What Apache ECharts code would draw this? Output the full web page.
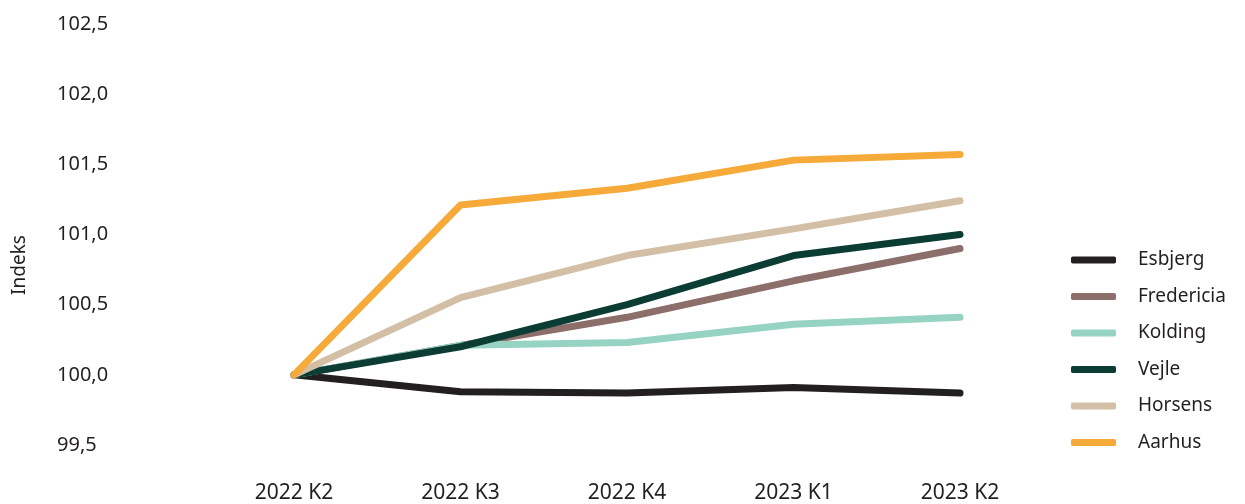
<!DOCTYPE html>
<html>
<head>
<meta charset="utf-8">
<script src="https://cdn.jsdelivr.net/npm/echarts@6/dist/echarts.min.js"></script>
<style>
html,body{margin:0;padding:0;background:#fff;}
#chart{width:1245px;height:504px;}
</style>
</head>
<body>
<div id="chart"></div>
<script>
const categories = ['2022 K2', '2022 K3', '2022 K4', '2023 K1', '2023 K2'];
const esbjerg    = [100.00, 99.88, 99.87, 99.91, 99.87];
const fredericia = [100.00, 100.21, 100.41, 100.67, 100.90];
const kolding    = [100.00, 100.21, 100.23, 100.36, 100.41];
const vejle      = [100.00, 100.20, 100.50, 100.85, 101.00];
const horsens    = [100.00, 100.55, 100.85, 101.04, 101.24];
const aarhus     = [100.00, 101.21, 101.33, 101.53, 101.57];
const seriesNames = ['Esbjerg', 'Fredericia', 'Kolding', 'Vejle', 'Horsens', 'Aarhus'];
const colors = ['#231f20', '#8c6e6b', '#96d3c3', '#0b3d34', '#d3bea6', '#f5aa3a'];
const yAxisName = 'Indeks';

const seriesData = [esbjerg, fredericia, kolding, vejle, horsens, aarhus];
const textColor = '#231f20';
const font = '"Noto Sans", sans-serif';

const chart = echarts.init(document.getElementById('chart'), null, {renderer: 'canvas'});
chart.setOption({
  animation: false,
  backgroundColor: '#ffffff',
  textStyle: {fontFamily: font, color: textColor},
  grid: {left: 294, right: 285, top: 24, bottom: 58, containLabel: false},
  xAxis: {
    type: 'category',
    data: categories,
    boundaryGap: false,
    axisLine: {show: false},
    axisTick: {show: false},
    splitLine: {show: false},
    axisLabel: {color: textColor, fontSize: 21, fontFamily: font, margin: 38}
  },
  yAxis: {
    type: 'value',
    min: 99.5,
    max: 102.5,
    interval: 0.5,
    axisLine: {show: false},
    axisTick: {show: false},
    splitLine: {show: false},
    axisLabel: {
      color: textColor, fontSize: 20, fontFamily: font, margin: 237, align: 'left',
      formatter: v => v.toFixed(1).replace('.', ',')
    }
  },
  legend: {
    orient: 'vertical',
    left: 1071,
    top: 250,
    padding: 0,
    itemWidth: 45,
    itemHeight: 7,
    itemGap: 16.5,
    icon: 'roundRect',
    data: seriesNames,
    textStyle: {color: textColor, fontSize: 19, fontFamily: font, lineHeight: 20, padding: [0, 0, 0, 17]}
  },
  graphic: [{
    type: 'text',
    x: 20, y: 265,
    rotation: Math.PI / 2,
    style: {text: yAxisName, fill: textColor, font: '19px "Noto Sans", sans-serif', align: 'center', verticalAlign: 'middle'}
  }],
  series: seriesNames.map((name, i) => ({
    name: name,
    type: 'line',
    data: seriesData[i],
    symbol: 'none',
    color: colors[i],
    itemStyle: {color: colors[i]},
    lineStyle: {width: 7, color: colors[i], cap: 'round', join: 'round'},
    z: 2 + i
  }))
});
</script>
</body>
</html>
